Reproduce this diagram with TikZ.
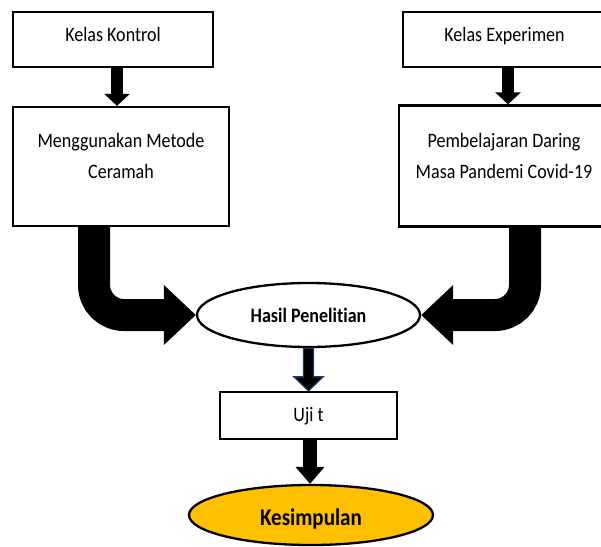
\documentclass[tikz,border=0pt]{standalone}
\usepackage{fontspec}
\setmainfont{Carlito}[FakeStretch=0.88, Ligatures={NoCommon}]
\usetikzlibrary{arrows.meta,shapes.geometric,calc}
\definecolor{gold}{RGB}{255,192,0}
\definecolor{navyline}{RGB}{32,56,100}
\begin{document}
\begin{tikzpicture}[x=1pt,y=-1pt,
  box/.style={draw=black, line width=2.3pt, fill=white, inner sep=0pt},
  txt/.style={inner sep=0pt, font=\fontsize{20.5}{31}\selectfont, align=center},
  ell/.style={ellipse, draw=black, line width=2.3pt, inner sep=0pt},
  smallarrow/.style={line width=12pt, -{Triangle[width=25pt,length=12pt]}},
  bigarrow/.style={line width=32pt, rounded corners=30pt, -{Triangle[width=58pt,length=32pt]}},
]
\useasboundingbox (0,0) rectangle (601,546);
\clip (0,0) rectangle (601,546);

% top boxes
\node[box, txt, minimum width=200pt, minimum height=55pt, text height=14.3pt, text depth=10.1pt] (kk) at (113,39.5) {Kelas Kontrol};
\node[box, txt, minimum width=203pt, minimum height=55pt, text height=14.3pt, text depth=10.1pt] (ke) at (504.5,39.5) {Kelas Experimen};

% second boxes
\node[box, minimum width=216pt, minimum height=119pt] (m) at (121,166.5) {};
\node[txt, anchor=north] (mt) at (121,133) {Menggunakan Metode\\Ceramah};
\node[box, minimum width=210pt, minimum height=121pt] (pd) at (504,166) {};
\node[txt, anchor=north] (pdt) at (504,133) {Pembelajaran Daring\\Masa Pandemi Covid-19};

% Hasil Penelitian
\node[ell, minimum width=223pt, minimum height=64pt, fill=white, font=\fontsize{20.5}{24}\selectfont\bfseries] (h) at (308.5,315) {Hasil Penelit\kern0pt ian};

% Uji t
\node[box, txt, minimum width=177pt, minimum height=47pt, text height=14.3pt, text depth=2.7pt] (u) at (308.5,415.5) {Uji t};

% Kesimpulan
\node[ell, fill=gold, minimum width=244pt, minimum height=60pt, font=\fontsize{23.9}{28}\selectfont\bfseries, text height=20pt, text depth=0pt] (ks) at (311,515) {Kesimpulan};

% small arrows
\coordinate (a1) at ([xshift=4pt]kk.south);
\draw[smallarrow] (a1) -- (a1 |- m.north);
\coordinate (a2) at ([xshift=3.5pt]ke.south);
\draw[smallarrow] (a2) -- (a2 |- pd.north);

% big curved arrows
\draw[bigarrow] ([xshift=-27pt]m.south) |- (h.west);
\draw[bigarrow] ([xshift=21pt]pd.south) |- (h.east);

% Hasil -> Uji t
\coordinate (hs) at (h.south);
\coordinate (un) at (hs |- u.north);
\filldraw[fill=black, draw=navyline, line width=1.3pt, line join=miter]
  ($(hs)+(-5,0)$) -- ($(un)+(-5,-14)$) -- ($(un)+(-14.5,-14)$) -- (un)
  -- ($(un)+(14.5,-14)$) -- ($(un)+(5,-14)$) -- ($(hs)+(5,0)$) -- cycle;

% Uji t -> Kesimpulan
\coordinate (us) at ([xshift=1.5pt]u.south);
\draw[line width=14pt, -{Triangle[width=28pt,length=17pt]}] (us) -- (us |- ks.north);
\end{tikzpicture}
\end{document}
